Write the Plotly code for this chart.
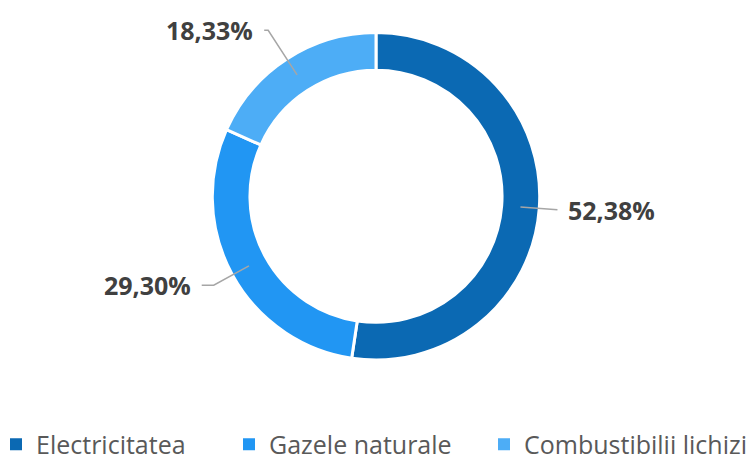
import math
import plotly.graph_objects as go

# ---- data ----
categories = ["Electricitatea", "Gazele naturale", "Combustibilii lichizi"]
shares = [52.38, 29.30, 18.33]
colors = ["#0B69B3", "#2196F3", "#4DADF6"]

# ---- layout constants ----
W, H = 751, 456
MB = 40                      # bottom margin (legend area)
PH = H - MB                  # plot-area height
CX, CY = 376.0, 196.3        # pie centre (px)
R_OUT = 163.7
HOLE = 0.77
R_MID = R_OUT * (1 + HOLE) / 2
ELBOW_R = [182, 185, 198]    # leader-line elbow radius per label
HSEG = [0, 12, 4]            # horizontal leader segment per label
GAP = 9                      # gap between leader and text
LEGEND_X_PX = [-4, 229, 484]  # left edge of each legend entry


def px_x(x):
    return x / W


def px_y(y):
    return (PH - y) / PH


fig = go.Figure()

fig.add_trace(go.Pie(
    labels=categories,
    values=shares,
    hole=HOLE,
    sort=False,
    direction="clockwise",
    rotation=0,
    textinfo="none",
    hoverinfo="label+percent",
    marker=dict(colors=colors, line=dict(color="white", width=3)),
    showlegend=False,
    domain=dict(x=[(CX - R_OUT) / W, (CX + R_OUT) / W],
                y=[px_y(CY + R_OUT), px_y(CY - R_OUT)]),
))

# legend-only entries (square swatches), each in its own legend box
legend_ids = ["legend", "legend2", "legend3"]
for name, c, lid in zip(categories, colors, legend_ids):
    fig.add_trace(go.Scatter(x=[None], y=[None], mode="markers", name=name,
                             marker=dict(symbol="square", size=12, color=c),
                             hoverinfo="skip", legend=lid, showlegend=True))

# leader lines + labels computed from data
total = sum(shares)
cum = 0.0
shapes = []
annotations = []
for i, v in enumerate(shares):
    mid = (cum + v / 2) / total * 2 * math.pi
    cum += v
    sx, sy = math.sin(mid), -math.cos(mid)
    p0 = (CX + R_MID * sx, CY + R_MID * sy)
    el = (CX + ELBOW_R[i] * sx, CY + ELBOW_R[i] * sy)
    side = 1 if sx >= 0 else -1
    end = (el[0] + side * HSEG[i], el[1])
    path = "M {:.4f} {:.4f} L {:.4f} {:.4f} L {:.4f} {:.4f}".format(
        px_x(p0[0]), px_y(p0[1]), px_x(el[0]), px_y(el[1]), px_x(end[0]), px_y(end[1]))
    shapes.append(dict(type="path", path=path, xref="paper", yref="paper",
                       line=dict(color="#A6A6A6", width=1.5), layer="above"))
    txt = "{:.2f}".format(v).replace(".", ",") + "%"
    annotations.append(dict(
        x=px_x(end[0] + side * GAP), y=px_y(end[1]), xref="paper", yref="paper",
        text="<b>" + txt + "</b>", showarrow=False,
        xanchor="left" if side > 0 else "right", yanchor="middle",
        font=dict(family="Open Sans", size=25, color="#404040"),
    ))

legend_style = dict(orientation="h", xanchor="left", y=-0.013, yanchor="top",
                    font=dict(family="Open Sans", size=25, color="#595959"),
                    bgcolor="rgba(0,0,0,0)", borderwidth=0)

fig.update_layout(
    width=W, height=H,
    margin=dict(l=0, r=0, t=0, b=MB, autoexpand=False),
    paper_bgcolor="white", plot_bgcolor="white",
    xaxis=dict(visible=False), yaxis=dict(visible=False),
    shapes=shapes, annotations=annotations,
    showlegend=True,
    legend=dict(x=px_x(LEGEND_X_PX[0]), **legend_style),
    legend2=dict(x=px_x(LEGEND_X_PX[1]), **legend_style),
    legend3=dict(x=px_x(LEGEND_X_PX[2]), **legend_style),
)

fig.write_html("out.html",
               config={"displayModeBar": False},
               post_script="document.body.style.margin='0px';document.body.style.overflow='hidden';")
